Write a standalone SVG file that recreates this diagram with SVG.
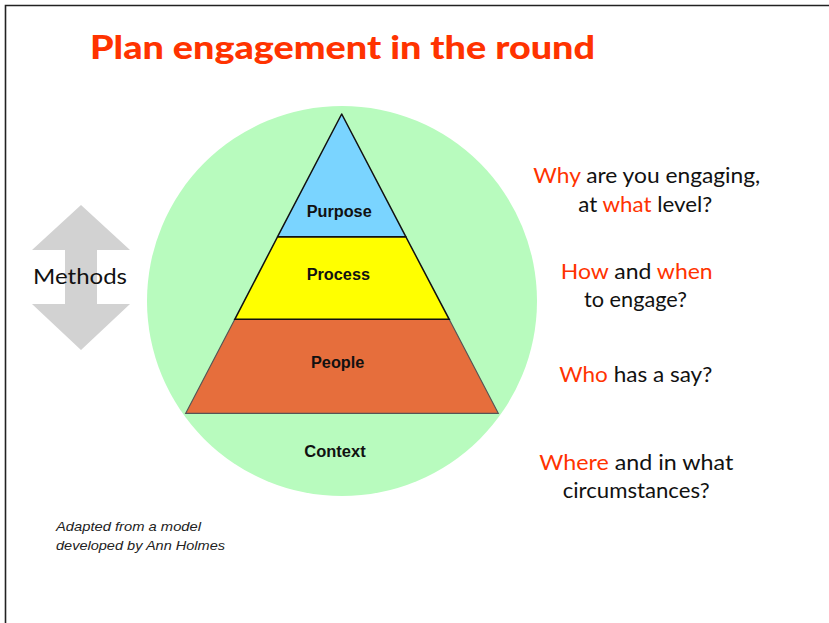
<svg xmlns="http://www.w3.org/2000/svg" width="829" height="623" viewBox="0 0 829 623">
<style>
.hum{font-family:Lato,"Open Sans","DejaVu Sans",sans-serif;fill:#111}
.red{fill:#FF3300}
.lbl{font-family:"Liberation Sans",Arial,sans-serif;font-weight:bold;font-size:16px;fill:#111}
.note{font-family:"Liberation Sans",Arial,sans-serif;font-style:italic;font-size:13px;fill:#222}
.rt{font-size:22px}
</style>
<rect x="0" y="0" width="829" height="623" fill="#fff"/>
<g id="frame" stroke="#222" stroke-width="1.6" fill="none">
<path d="M5.5,623 V5.5 H829"/>
</g>
<text id="title" x="90" y="58.5" class="hum" style="font-size:32px;font-weight:900;fill:#FF3300" textLength="505" lengthAdjust="spacingAndGlyphs">Plan engagement in the round</text>
<g id="methods">
<polygon points="81,205 130,250 97,250 97,304 130,304 81,350 32,304 65,304 65,250 32,250" fill="#D2D2D2"/>
<text x="33" y="284" class="hum" style="font-size:22px" textLength="94" lengthAdjust="spacingAndGlyphs">Methods</text>
</g>
<g id="context">
<circle cx="342" cy="301" r="195" fill="#B8FBBE"/>
<text x="304.3" y="457.3" class="lbl" textLength="61.4" lengthAdjust="spacingAndGlyphs">Context</text>
</g>
<g id="people">
<polygon points="234.8,319.3 449.2,319.3 498.3,413.3 185.7,413.3" fill="#E66E3C" stroke="#555" stroke-width="1.2"/>
<text x="311" y="368.3" class="lbl" textLength="53.3" lengthAdjust="spacingAndGlyphs">People</text>
</g>
<g id="process">
<polygon points="277.6,236.7 405.8,236.7 449.2,319.3 234.8,319.3" fill="#FFFF00" stroke="#111" stroke-width="1.5"/>
<text x="306.7" y="280" class="lbl" textLength="63.3" lengthAdjust="spacingAndGlyphs">Process</text>
</g>
<g id="purpose">
<polygon points="341.7,114 405.8,236.7 277.6,236.7" fill="#7AD4FF" stroke="#111" stroke-width="1.5" stroke-linejoin="round"/>
<text x="306.7" y="216.7" class="lbl" textLength="65" lengthAdjust="spacingAndGlyphs">Purpose</text>
</g>
<g id="questions" class="hum">
<text x="533.3" y="183.3" class="hum rt" textLength="227" lengthAdjust="spacingAndGlyphs"><tspan class="red">Why</tspan> are you engaging,</text>
<text x="578.3" y="211.7" class="hum rt" textLength="134" lengthAdjust="spacingAndGlyphs">at <tspan class="red">what</tspan> level?</text>
<text x="560.7" y="279.3" class="hum rt" textLength="152" lengthAdjust="spacingAndGlyphs"><tspan class="red">How</tspan> and <tspan class="red">when</tspan></text>
<text x="584" y="307.3" class="hum rt" textLength="103" lengthAdjust="spacingAndGlyphs">to engage?</text>
<text x="559.3" y="381.7" class="hum rt" textLength="153" lengthAdjust="spacingAndGlyphs"><tspan class="red">Who</tspan> has a say?</text>
<text x="539.3" y="470" class="hum rt" textLength="194" lengthAdjust="spacingAndGlyphs"><tspan class="red">Where</tspan> and in what</text>
<text x="562.7" y="498.3" class="hum rt" textLength="147" lengthAdjust="spacingAndGlyphs">circumstances?</text>
</g>
<g id="credit">
<text x="56" y="531" class="note" textLength="145" lengthAdjust="spacingAndGlyphs">Adapted from a model</text>
<text x="56" y="550" class="note" textLength="169" lengthAdjust="spacingAndGlyphs">developed by Ann Holmes</text>
</g>
</svg>
